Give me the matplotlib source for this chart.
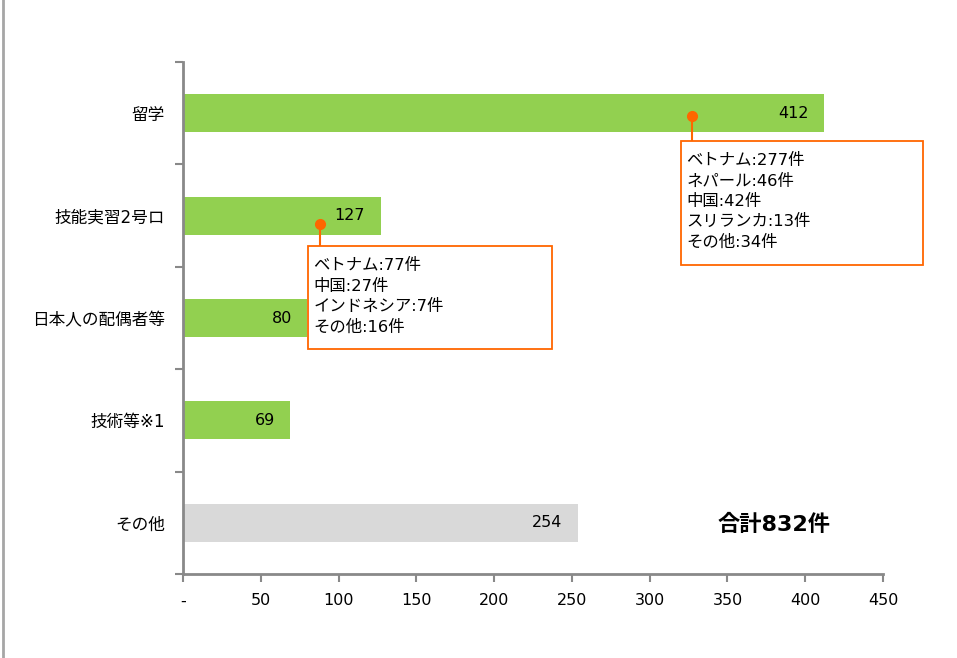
import matplotlib.pyplot as plt
from matplotlib.patches import Rectangle
from matplotlib.lines import Line2D

plt.rcParams['font.family'] = ['DejaVu Sans', 'Noto Sans CJK JP']

# data
categories = ['留学', '技能実習2号ロ', '日本人の配偶者等', '技術等※1', 'その他']
values = [412, 127, 80, 69, 254]
colors = ['#92d050', '#92d050', '#92d050', '#92d050', '#d9d9d9']
xticks = [0, 50, 100, 150, 200, 250, 300, 350, 400, 450]
xticklabels = ['-', '50', '100', '150', '200', '250', '300', '350', '400', '450']

notes_ryugaku = ['ベトナム:277件', 'ネパール:46件', '中国:42件', 'スリランカ:13件', 'その他:34件']
notes_ginou = ['ベトナム:77件', '中国:27件', 'インドネシア:7件', 'その他:16件']
total_label = '合計832件'

W, H = 957, 658
fig = plt.figure(figsize=(W / 100, H / 100), dpi=100)
ax = fig.add_axes([183 / W, 1 - 574 / H, 700 / W, 512 / H])

ypos = list(range(len(categories)))
ax.barh(ypos, values, height=0.37, color=colors, zorder=2)
ax.set_ylim(len(categories) - 0.5, -0.5)
ax.set_xlim(0, 450)

# value labels inside bar ends
for y, v in zip(ypos, values):
    ax.text(v - 10, y, str(v), ha='right', va='center', fontsize=11.5, color='#000000', zorder=4)

ax.set_yticks(ypos)
ax.set_yticklabels(categories, fontsize=12)
ax.set_yticks([i - 0.5 for i in range(len(categories) + 1)], minor=True)
ax.tick_params(axis='y', which='major', length=0, pad=13)
ax.tick_params(axis='y', which='minor', length=6, width=1.5, color='#898989')
ax.set_xticks(xticks)
ax.set_xticklabels(xticklabels, fontsize=11.5)
ax.tick_params(axis='x', length=6, width=1.5, color='#898989', pad=8)

for side in ['top', 'right']:
    ax.spines[side].set_visible(False)
for side in ['left', 'bottom']:
    ax.spines[side].set_color('#898989')
    ax.spines[side].set_linewidth(2)

orange = '#ff6600'


def px_to_x(px):
    return (px - 183) / 700 * 450


def py_to_y(py):
    return (py - 62) / 512 * 5 - 0.5


def callout(x_dot, y_dot, box_x0, box_x1, box_top, box_bottom, lines):
    ax.plot([x_dot, x_dot], [y_dot, box_top], color=orange, lw=1.5, zorder=5, clip_on=False)
    ax.plot(x_dot, y_dot, 'o', color=orange, ms=7, zorder=6, clip_on=False)
    ax.add_patch(Rectangle((box_x0, box_top), box_x1 - box_x0, box_bottom - box_top,
                           facecolor='white', edgecolor=orange, lw=1.3, zorder=5, clip_on=False))
    ax.text(box_x0 + 3.5, box_top + 0.12, '\n'.join(lines), ha='left', va='top',
            fontsize=11.8, linespacing=1.43, zorder=6)


callout(px_to_x(692), py_to_y(116), px_to_x(681), px_to_x(923), py_to_y(141), py_to_y(265), notes_ryugaku)
callout(px_to_x(320), py_to_y(224), px_to_x(308), px_to_x(552), py_to_y(246), py_to_y(349), notes_ginou)

ax.text(px_to_x(774), 4.02, total_label, ha='center', va='center', fontsize=16, fontweight='bold')

# left border line of the figure
fig.add_artist(Line2D([2.5 / W, 2.5 / W], [0, 1], color='#a6a6a6', lw=2, transform=fig.transFigure))

fig.savefig('out.png', dpi=100)
